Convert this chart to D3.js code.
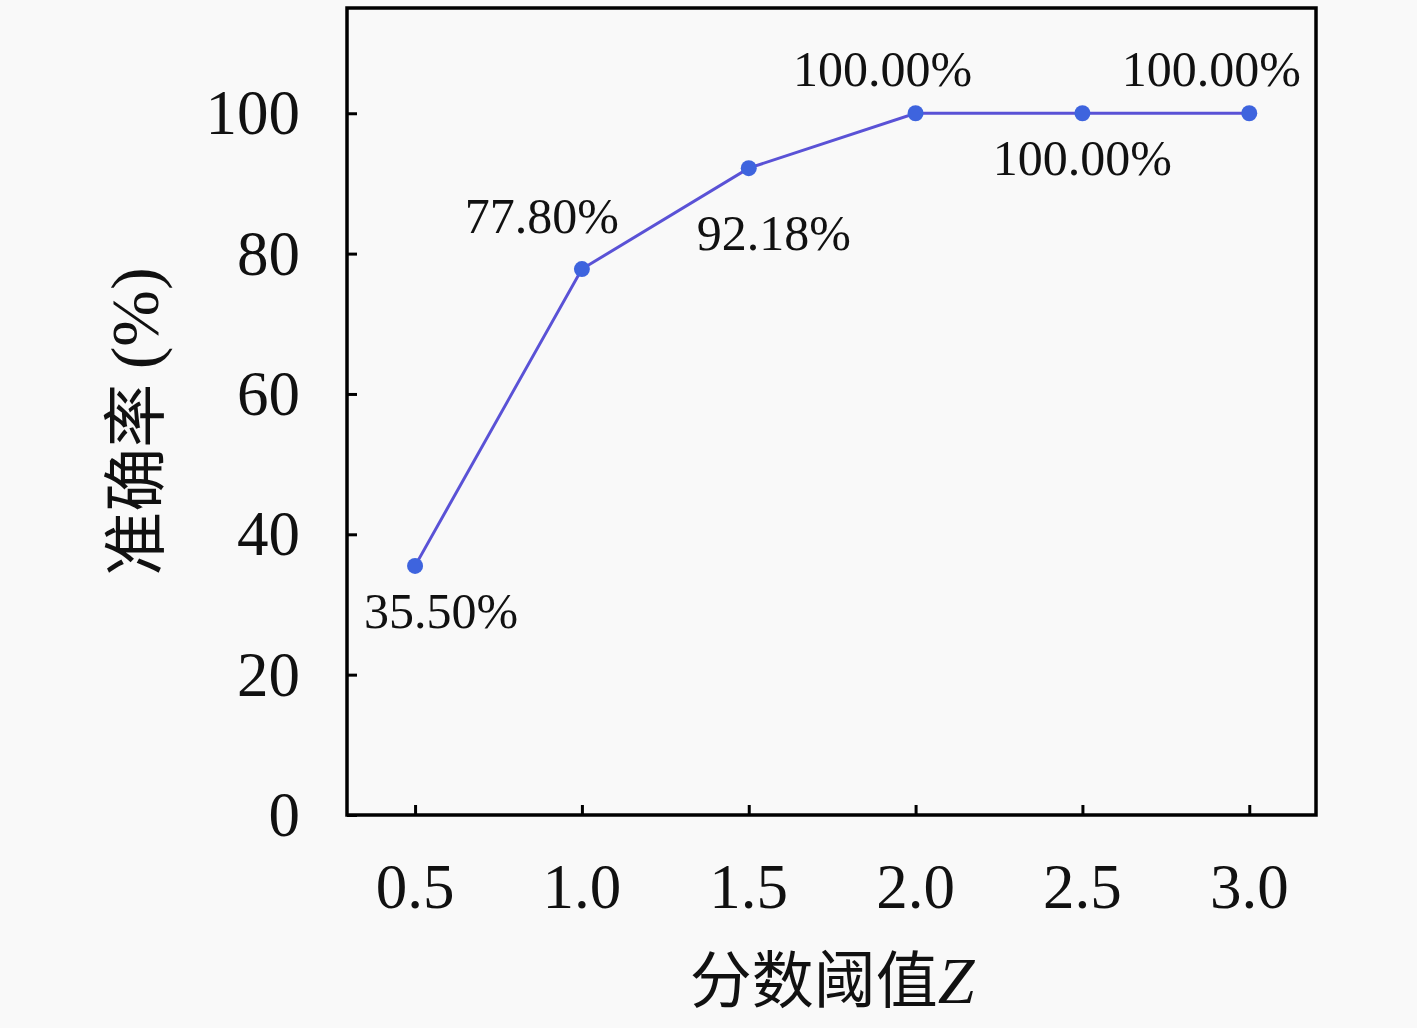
<!DOCTYPE html>
<html>
<head>
<meta charset="utf-8">
<script src="https://cdn.jsdelivr.net/npm/d3@7"></script>
<style>
  html, body { margin: 0; padding: 0; background: #f9f9f9; }
  svg { display: block; }
  .tick-label { font-family: "Liberation Serif", "DejaVu Serif", serif; fill: #111; }
  .cjk { font-family: "Noto Sans CJK SC", sans-serif; fill: #111; }
  .math { font-family: "Liberation Serif", "DejaVu Serif", serif; }
</style>
</head>
<body>
<svg id="chart" width="1417" height="1028"></svg>
<script>
// data
const thresholds = [0.5, 1.0, 1.5, 2.0, 2.5, 3.0];
const accuracy   = [35.50, 77.80, 92.18, 100.00, 100.00, 100.00];
const xTicks = [0.5, 1.0, 1.5, 2.0, 2.5, 3.0];
const yTicks = [0, 20, 40, 60, 80, 100];
// label placement relative to each point: [dx, dy] (px)
const labelOffsets = [[26, 62], [-40, -36], [25, 82], [-33, -27], [0, 62], [-38, -27]];

const W = 1417, H = 1028;
const M = { left: 347, right: 1316, top: 8, bottom: 815 };

const svg = d3.select('#chart');
svg.append('rect').attr('width', W).attr('height', H).attr('fill', '#f9f9f9');

const x = d3.scaleLinear().domain([0.296, 3.2]).range([M.left, M.right]);
const y = d3.scaleLinear().domain([0, 115]).range([M.bottom, M.top]);

// ticks (inward)
const xAxis = d3.axisBottom(x).tickValues(xTicks).tickSizeInner(-10).tickSizeOuter(0).tickFormat('');
const yAxis = d3.axisLeft(y).tickValues(yTicks).tickSizeInner(-10).tickSizeOuter(0).tickFormat('');
svg.append('g').attr('transform', `translate(0,${M.bottom})`).call(xAxis)
  .call(g => g.select('.domain').remove())
  .call(g => g.selectAll('line').attr('stroke', '#000').attr('stroke-width', 3));
svg.append('g').attr('transform', `translate(${M.left},0)`).call(yAxis)
  .call(g => g.select('.domain').remove())
  .call(g => g.selectAll('line').attr('stroke', '#000').attr('stroke-width', 3));

// frame
svg.append('rect')
  .attr('x', M.left).attr('y', M.top)
  .attr('width', M.right - M.left).attr('height', M.bottom - M.top)
  .attr('fill', 'none').attr('stroke', '#000').attr('stroke-width', 3.5);

// tick labels
svg.selectAll('.xl').data(xTicks).join('text')
  .attr('class', 'tick-label')
  .attr('x', d => x(d)).attr('y', 908)
  .attr('text-anchor', 'middle').attr('font-size', 63)
  .text(d => d.toFixed(1));
svg.selectAll('.yl').data(yTicks).join('text')
  .attr('class', 'tick-label')
  .attr('x', 300).attr('y', d => y(d) + 21)
  .attr('text-anchor', 'end').attr('font-size', 63)
  .text(d => d);

// axis titles
const xt = svg.append('text').attr('x', 832).attr('y', 1003)
  .attr('text-anchor', 'middle').attr('font-size', 62).attr('class', 'cjk');
xt.append('tspan').text('分数阈值');
xt.append('tspan').attr('class', 'math').style('font-style', 'italic')
  .attr('font-size', 66).text('Z');

const yt = svg.append('text')
  .attr('transform', `translate(158,${(M.top + M.bottom) / 2 + 10}) rotate(-90)`)
  .attr('text-anchor', 'middle').attr('font-size', 64).attr('class', 'cjk');
yt.append('tspan').text('准确率 ');
yt.append('tspan').attr('class', 'math').attr('font-size', 68).text('(%)');

// line + markers
const pts = thresholds.map((t, i) => ({ t, v: accuracy[i], i }));
svg.append('path').datum(pts)
  .attr('d', d3.line().x(d => x(d.t)).y(d => y(d.v)))
  .attr('fill', 'none').attr('stroke', '#5a52d6').attr('stroke-width', 3);
svg.selectAll('.pt').data(pts).join('circle')
  .attr('cx', d => x(d.t)).attr('cy', d => y(d.v)).attr('r', 8)
  .attr('fill', '#3e64de');

// data labels
svg.selectAll('.dl').data(pts).join('text')
  .attr('class', 'tick-label')
  .attr('x', d => x(d.t) + labelOffsets[d.i][0])
  .attr('y', d => y(d.v) + labelOffsets[d.i][1])
  .attr('text-anchor', 'middle').attr('font-size', 50)
  .text(d => d.v.toFixed(2) + '%');
</script>
</body>
</html>
